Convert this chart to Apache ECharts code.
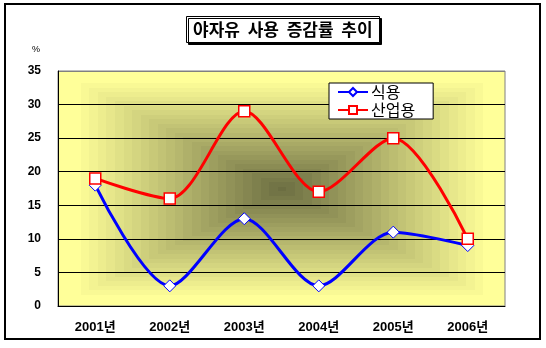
<!DOCTYPE html>
<html><head><meta charset="utf-8">
<script src="https://cdn.jsdelivr.net/npm/echarts@6/dist/echarts.min.js"></script>
<style>html,body{margin:0;padding:0;background:#fff}#c{width:546px;height:348px}</style>
</head><body><div id="c"></div>
<script>
var categories = ['2001년','2002년','2003년','2004년','2005년','2006년'];
var food = [18, 3, 13, 3, 11, 9];
var industrial = [19, 16, 29, 17, 25, 10];
var seriesNames = ['식용','산업용'];
var titleText = '야자유  사용  증감률  추이';

// rectangular "from center" gradient background for the plot area
var GW = 447, GH = 235;
var bg = document.createElement('canvas');
bg.width = GW; bg.height = GH;
(function(){
  var ctx = bg.getContext('2d');
  var img = ctx.createImageData(GW, GH);
  var dark = [108, 110, 66], light = [255, 255, 153];
  var cx = GW/2, cy = GH/2;
  for (var y=0;y<GH;y++) for (var x=0;x<GW;x++){
    var t = Math.max(Math.abs(x-cx)/cx, Math.abs(y-cy)/cy);
    t = Math.min(1, t/0.92);
    t = Math.round(t*24)/24;
    var i=(y*GW+x)*4;
    for (var k=0;k<3;k++) img.data[i+k] = Math.round(dark[k]+(light[k]-dark[k])*t);
    img.data[i+3]=255;
  }
  ctx.putImageData(img,0,0);
})();

var chart = echarts.init(document.getElementById('c'), null, {renderer:'canvas'});
var labelFont = {fontFamily:'Liberation Sans, "Noto Sans CJK KR", sans-serif', fontWeight:'bold', color:'#000'};
chart.setOption({
  animation:false,
  backgroundColor:'#fff',
  title:{
    text:titleText, left:186, top:16,
    padding:[5,7,5,7],
    borderColor:'#000', borderWidth:1, backgroundColor:'#fff',
    shadowColor:'#000', shadowOffsetX:2, shadowOffsetY:2, shadowBlur:0,
    textStyle:{fontFamily:'"Noto Sans CJK KR", sans-serif', fontWeight:'bold', fontSize:17, color:'#000'}
  },
  graphic:[
    {type:'rect', shape:{x:5,y:4,width:535,height:335}, style:{fill:'none', stroke:'#000', lineWidth:2}, z:-20},
    {type:'image', left:58, top:71, z:-10, style:{image:bg, width:GW, height:GH}}
  ],
  legend:{
    data:seriesNames, orient:'vertical', left:329, top:83,
    padding:[1,18,1,8], itemGap:2, itemWidth:30, itemHeight:10,
    borderColor:'#000', borderWidth:1, backgroundColor:'#fff',
    textStyle:{fontFamily:'"Noto Sans CJK KR", sans-serif', fontSize:16, color:'#000', padding:[0,0,0,-2]}
  },
  grid:{left:58, top:71, right:41, bottom:42, show:true, borderColor:'#808080', borderWidth:1, backgroundColor:'transparent'},
  xAxis:{
    type:'category', data:categories, boundaryGap:true,
    axisLine:{lineStyle:{color:'#000', width:1}},
    axisTick:{inside:true, length:4, lineStyle:{color:'#000'}},
    axisLabel:Object.assign({margin:15, fontSize:13}, labelFont)
  },
  yAxis:{
    type:'value', min:0, max:35, interval:5,
    name:'%', nameGap:17,
    nameTextStyle:{fontSize:9, color:'#000', align:'center', padding:[0,0,0,-44]},
    axisLine:{show:true, lineStyle:{color:'#000', width:1}},
    axisTick:{show:false},
    splitLine:{lineStyle:{color:['#000','#000','#000','#000','#000','#000','#000','#808080'], width:1}},
    axisLabel:Object.assign({margin:17, fontSize:12}, labelFont)
  },
  series:[
    {name:seriesNames[0], type:'line', data:food, smooth:0.3, symbol:'diamond', symbolSize:12,
     lineStyle:{color:'#0000ff', width:3}, itemStyle:{color:'#fff', borderColor:'#0000ff', borderWidth:1},
     z:3},
    {name:seriesNames[1], type:'line', data:industrial, smooth:0.3, symbol:'rect', symbolSize:11,
     lineStyle:{color:'#ff0000', width:3}, itemStyle:{color:'#fff', borderColor:'#ff0000', borderWidth:1.5},
     z:4}
  ]
});
</script></body></html>
